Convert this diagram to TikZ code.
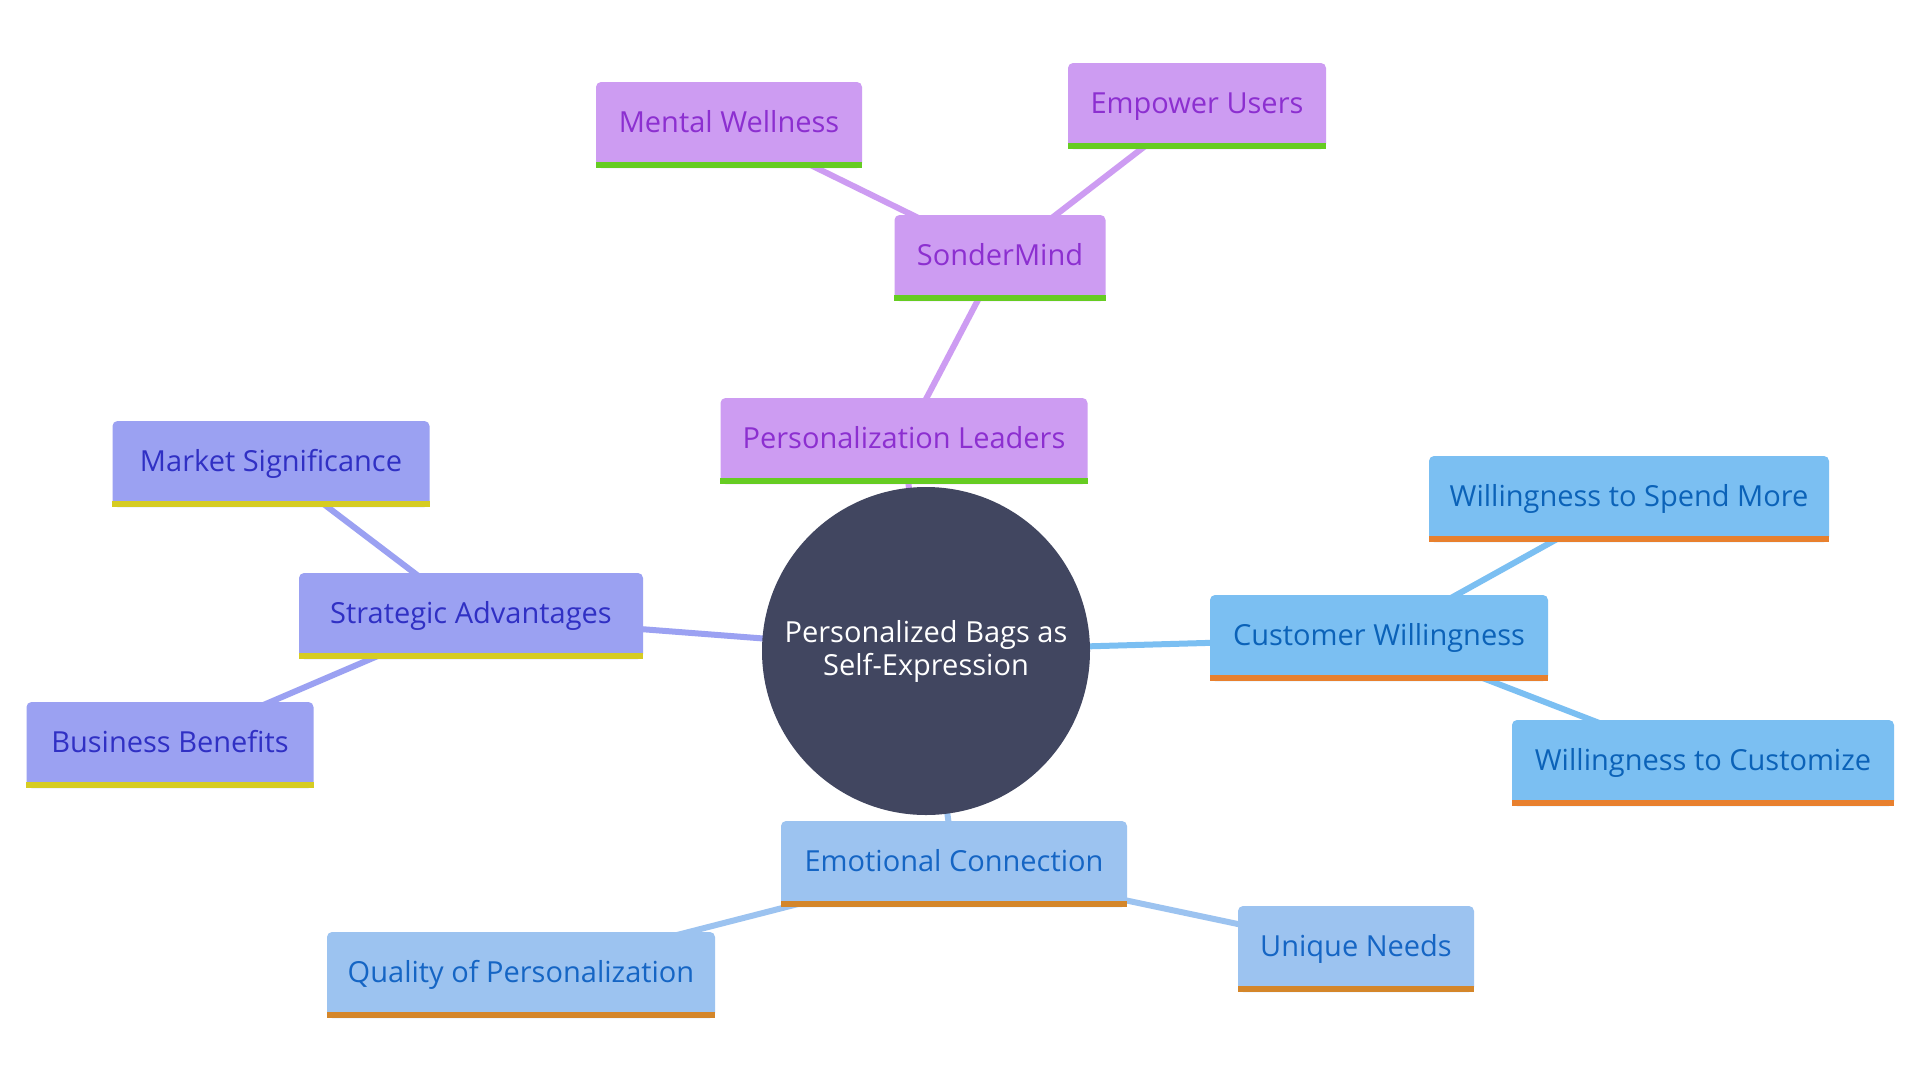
\documentclass[tikz,border=0pt]{standalone}
\usepackage{fontspec}
\setmainfont{Open Sans}
\usetikzlibrary{backgrounds}
\definecolor{pfill}{HTML}{CD9CF2}
\definecolor{ptext}{HTML}{8C2FD0}
\definecolor{pbar}{HTML}{66CC22}
\definecolor{ifill}{HTML}{9BA1F2}
\definecolor{itext}{HTML}{3030C4}
\definecolor{ibar}{HTML}{D6CC22}
\definecolor{bfill}{HTML}{7BBFF2}
\definecolor{btext}{HTML}{0B62B8}
\definecolor{bbar}{HTML}{E8802E}
\definecolor{efill}{HTML}{9CC3F0}
\definecolor{etext}{HTML}{1565C4}
\definecolor{ebar}{HTML}{D4862A}
\definecolor{core}{HTML}{414660}
\tikzset{
  box/.style 2 args={rectangle, rounded corners=5pt, fill=#1, text=#2,
    inner sep=0pt, minimum height=86pt, text height=21pt, text depth=6pt,
    font=\fontsize{29}{34}\selectfont},
  pbox/.style={box={pfill}{ptext}},
  ibox/.style={box={ifill}{itext}},
  bbox/.style={box={bfill}{btext}},
  ebox/.style={box={efill}{etext}},
  link/.style={line width=6pt, draw=#1},
}
\begin{document}
\begin{tikzpicture}[x=1pt,y=-1pt]
\useasboundingbox (0,0) rectangle (1920,1080);
\node[circle, fill=core, minimum size=328pt, inner sep=0pt, text=white, align=center,
  font=\fontsize{29}{33}\selectfont] (C) at (926,651) {Personalized Bags as\\Self-Expression};
\node[pbox, minimum width=367pt] (PL) at (904,441) {Personalization Leaders};
\node[pbox, minimum width=211pt] (SM) at (1000,258) {SonderMind};
\node[pbox, minimum width=266pt] (MW) at (729,125) {Mental Wellness};
\node[pbox, minimum width=258pt] (EU) at (1197,106) {Empower Users};
\node[ibox, minimum width=344pt] (SA) at (471,616) {Strategic Advantages};
\node[ibox, minimum width=317pt] (MS) at (271,464) {Market Significance};
\node[ibox, minimum width=287pt] (BB) at (170,745) {Business Benefits};
\node[bbox, minimum width=338pt] (CW) at (1379,638) {Customer Willingness};
\node[bbox, minimum width=400pt] (WS) at (1629,499) {Willingness to Spend More};
\node[bbox, minimum width=382pt] (WC) at (1703,763) {Willingness to Customize};
\node[ebox, minimum width=346pt] (EC) at (954,864) {Emotional Connection};
\node[ebox, minimum width=388pt] (QP) at (521,975) {Quality of Personalization};
\node[ebox, minimum width=236pt] (UN) at (1356,949) {Unique Needs};
\foreach \n/\c in {PL/pbar,SM/pbar,MW/pbar,EU/pbar,SA/ibar,MS/ibar,BB/ibar,
  CW/bbar,WS/bbar,WC/bbar,EC/ebar,QP/ebar,UN/ebar}
  \fill[\c] (\n.south west) rectangle ([yshift=6pt]\n.south east);
\begin{scope}[on background layer]
\fill[white] (0,0) rectangle (1920,1080);
\draw[link=pfill] (C.center) -- (PL.center);
\draw[link=pfill] (PL.center) -- (SM.center);
\draw[link=pfill] (SM.center) -- (MW.center);
\draw[link=pfill] (SM.center) -- (EU.center);
\draw[link=ifill] (C.center) -- (SA.center);
\draw[link=ifill] (SA.center) -- (MS.center);
\draw[link=ifill] (SA.center) -- (BB.center);
\draw[link=bfill] (C.center) -- (CW.center);
\draw[link=bfill] (CW.center) -- (WS.center);
\draw[link=bfill] (CW.center) -- (WC.center);
\draw[link=efill] (C.center) -- (EC.center);
\draw[link=efill] (EC.center) -- (QP.center);
\draw[link=efill] (EC.center) -- (UN.center);
\end{scope}
\end{tikzpicture}
\end{document}
